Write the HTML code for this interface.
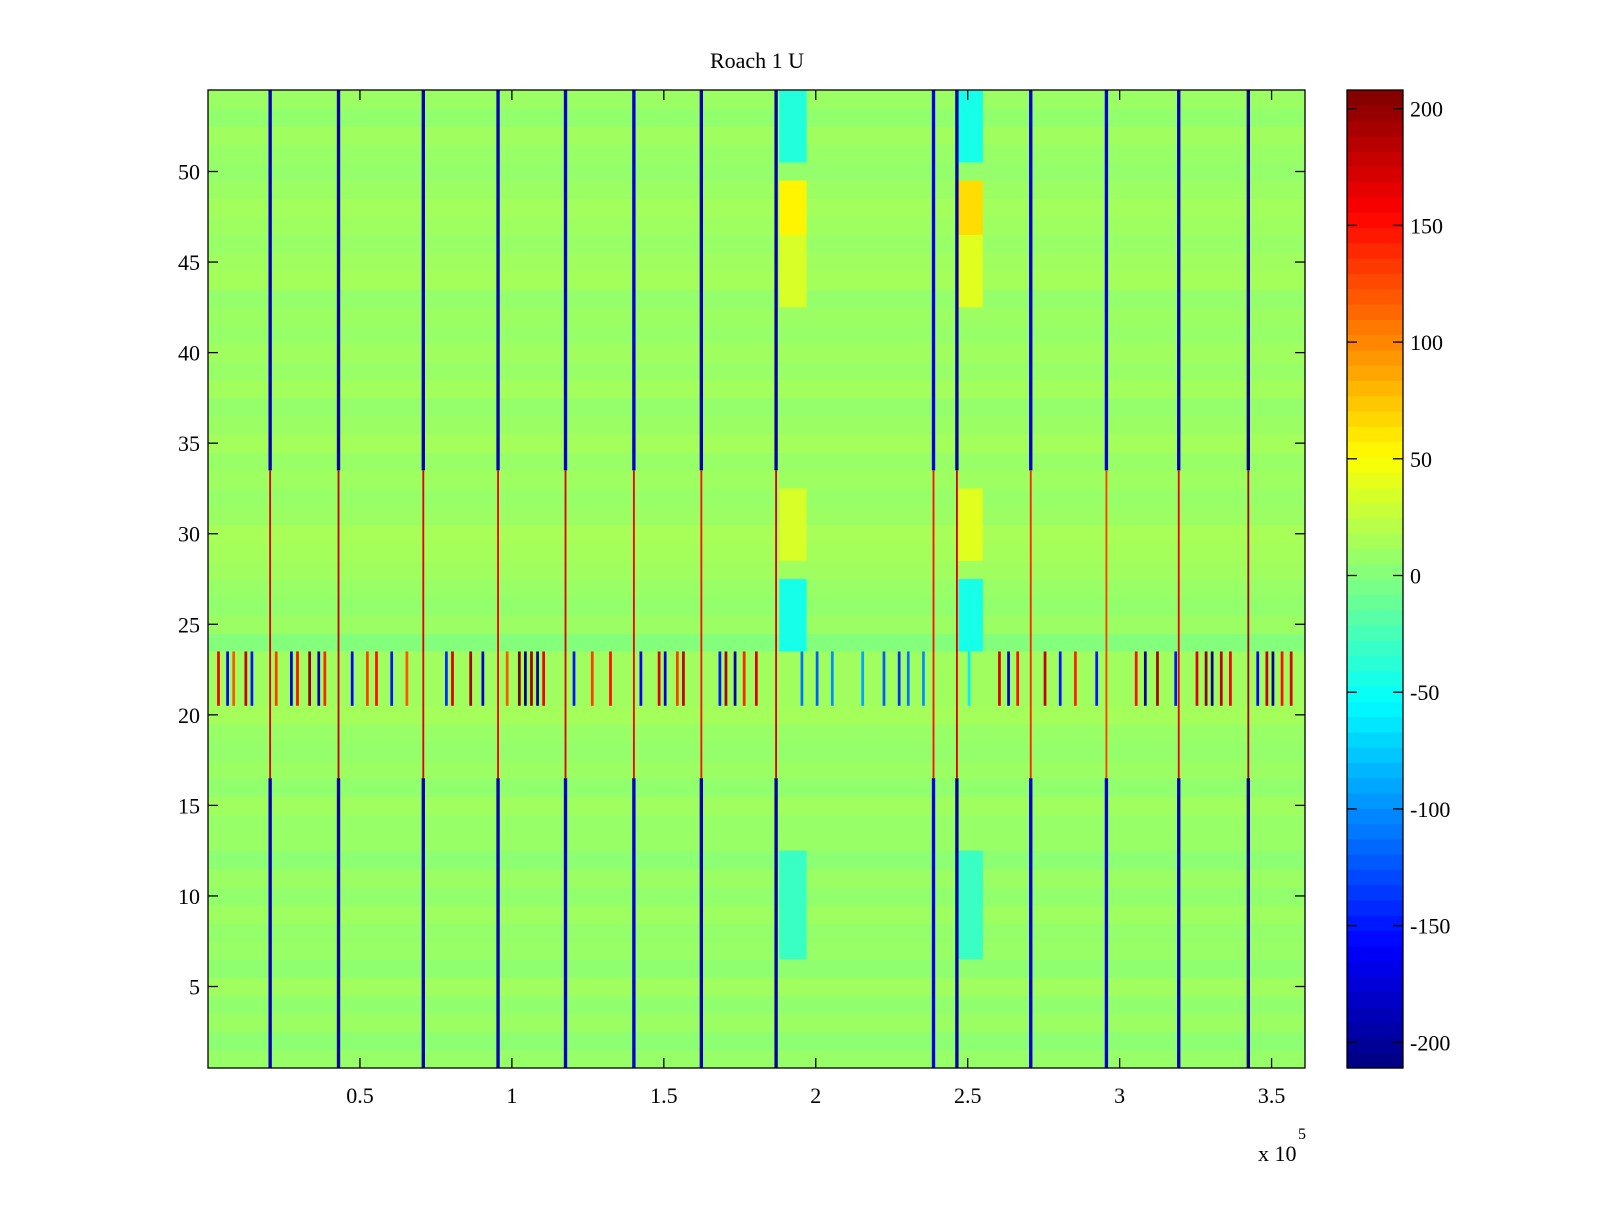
<!DOCTYPE html>
<html><head><meta charset="utf-8"><style>
html,body{margin:0;padding:0;background:#fff;}
svg text{font-family:"Liberation Serif",serif;fill:#000;}
</style></head><body>
<svg id="fig" width="1600" height="1200" viewBox="0 0 1600 1200" xmlns="http://www.w3.org/2000/svg">
<text x="757" y="68" font-size="22" text-anchor="middle">Roach 1 U</text>
<g id="plot"></g>
<g id="cbar"></g>
<g id="axes"></g>
</svg>
<script>
// ---- data ----
const rowValues = [8,4,10,6,12,5,9,7,11,6,10,4,9,8,12,6,10,7,9,14,8,0,0,0,10,6,9,12,14,15,10,8,11,9,14,10,7,13,9,12,8,10,7,14,12,9,11,13,10,7,9,12,6,10];
const stripeX = [0.199,0.424,0.703,0.949,1.171,1.396,1.618,1.864,2.382,2.459,2.702,2.951,3.189,3.418];
const stripeTopV = [-190,-200,-190,-190,-180,-180,-190,-200,-170,-200,-180,-180,-190,-210];
const stripeMidV = [170,180,170,160,170,160,150,170,150,170,140,130,160,190];
const blobX0 = [1.88,1.88,1.88,1.88,1.88,1.88,2.47,2.47,2.47,2.47,2.47,2.47];
const blobX1 = [1.97,1.97,1.97,1.97,1.97,1.97,2.55,2.55,2.55,2.55,2.55,2.55];
const blobR0 = [51,47,43,29,24,7,51,47,43,29,24,7];
const blobR1 = [54,49,46,32,27,12,54,49,46,32,27,12];
const blobV = [-40,55,35,35,-45,-30,-45,65,38,38,-45,-30];
const bandX = [0.03,0.06,0.08,0.12,0.14,0.22,0.27,0.29,0.33,0.36,0.38,0.47,0.52,0.55,0.6,0.65,0.78,0.8,0.86,0.9,0.98,1.02,1.04,1.06,1.08,1.1,1.2,1.26,1.32,1.42,1.48,1.5,1.54,1.56,1.68,1.7,1.73,1.76,1.8,1.95,2.0,2.05,2.15,2.22,2.27,2.3,2.35,2.5,2.6,2.63,2.66,2.75,2.8,2.85,2.92,3.05,3.08,3.12,3.18,3.25,3.28,3.3,3.33,3.36,3.45,3.48,3.5,3.53,3.56];
const bandV = [160,-160,120,180,-150,130,-170,150,200,-190,140,-160,130,150,-150,120,-140,170,190,-180,120,210,-210,190,-200,160,-150,130,150,-160,170,-170,130,180,-150,190,-190,140,170,-110,-120,-100,-90,-120,-140,-110,-100,-60,170,-180,150,180,-150,140,-150,150,-200,190,-150,170,200,-210,180,160,-160,180,-200,150,170];
const xTicks = [0.5,1,1.5,2,2.5,3,3.5];
const yTicks = [5,10,15,20,25,30,35,40,45,50];
const cTicks = [200,150,100,50,0,-50,-100,-150,-200];
// ---- scales ----
const X0=208,X1=1305,Y0=90,Y1=1068,XMAX=3.61,RMIN=0.5,RMAX=54.5;
const CMIN=-211,CMAX=208,CB0=1347,CB1=1403;
const xs=v=>X0+v/XMAX*(X1-X0);
const ys=r=>Y0+(RMAX-r)/(RMAX-RMIN)*(Y1-Y0);
const cy=v=>Y0+(CMAX-v)/(CMAX-CMIN)*(Y1-Y0);
function jet(v){const t=Math.max(0,Math.min(1,(v-CMIN)/(CMAX-CMIN)));
 const c=x=>Math.round(255*Math.max(0,Math.min(1,x)));
 return `rgb(${c(1.5-Math.abs(4*t-3))},${c(1.5-Math.abs(4*t-2))},${c(1.5-Math.abs(4*t-1))})`;}
const NS="http://www.w3.org/2000/svg";
function rect(p,x,y,w,h,fill,name){const r=document.createElementNS(NS,'rect');
 r.setAttribute('x',x);r.setAttribute('y',y);r.setAttribute('width',w);r.setAttribute('height',h);r.setAttribute('fill',fill);
 
 
 p.appendChild(r);return r;}
function line(p,x1,y1,x2,y2,name){const l=document.createElementNS(NS,'line');
 l.setAttribute('x1',x1);l.setAttribute('y1',y1);l.setAttribute('x2',x2);l.setAttribute('y2',y2);l.setAttribute('stroke','#000');l.setAttribute('stroke-width',1.3);
 
 
 p.appendChild(l);}
function text(p,x,y,s,str,anchor,name){const t=document.createElementNS(NS,'text');
 t.setAttribute('x',x);t.setAttribute('y',y);t.setAttribute('font-size',s);t.setAttribute('text-anchor',anchor);t.textContent=str;
 
 
 p.appendChild(t);}
const plot=document.getElementById('plot');
rowValues.forEach((v,i)=>{const r=i+1;rect(plot,X0,ys(r+0.5),X1-X0,ys(r-0.5)-ys(r+0.5)+0.5,jet(v),'heatmap-row');});
for(let r=21;r<=23;r++){rect(plot,X0,ys(r+0.5),X1-X0,ys(r-0.5)-ys(r+0.5)+0.5,jet(12),'band-row');}
bandX.forEach((x,i)=>{const w=0.009;rect(plot,xs(x),ys(23.5),xs(x+w)-xs(x),ys(20.5)-ys(23.5),jet(bandV[i]),'band-cell');});
blobX0.forEach((x,i)=>{rect(plot,xs(x),ys(blobR1[i]+0.5),xs(blobX1[i])-xs(x),ys(blobR0[i]-0.5)-ys(blobR1[i]+0.5),jet(blobV[i]),'heatmap-blob');});
stripeX.forEach((x,i)=>{const w=0.011,px=xs(x),pw=xs(x+w)-px,mw=xs(0.006)-xs(0);
 rect(plot,px,Y0,pw,ys(33.5)-Y0,jet(stripeTopV[i]),'stripe-top');
 rect(plot,px+(pw-mw)/2,ys(33.5),mw,ys(16.5)-ys(33.5),jet(stripeMidV[i]),'stripe-mid');
 rect(plot,px,ys(16.5),pw,Y1-ys(16.5),jet(stripeTopV[i]),'stripe-bottom');});
const ax=document.getElementById('axes');
const fr=rect(ax,X0,Y0,X1-X0,Y1-Y0,'none','plot-frame');fr.setAttribute('stroke','#000');fr.setAttribute('stroke-width',1.3);
xTicks.forEach(v=>{const x=xs(v*1);line(ax,x,Y1,x,Y1-10,'x-tick');line(ax,x,Y0,x,Y0+10,'x-tick-top');text(ax,x,Y1+35,22,String(v),'middle','x-tick-label');});
yTicks.forEach(v=>{const y=ys(v);line(ax,X0,y,X0+10,y,'y-tick');line(ax,X1,y,X1-10,y,'y-tick-right');text(ax,X0-8,y+8,22,String(v),'end','y-tick-label');});
text(ax,1258,1161,22,'x 10','start','x-exponent-label');
text(ax,1298,1139,16,'5','start','x-exponent-power');
const cb=document.getElementById('cbar');
const N=64;for(let i=0;i<N;i++){const v0=CMIN+(CMAX-CMIN)*i/N,v1=CMIN+(CMAX-CMIN)*(i+1)/N;
 rect(cb,CB0,cy(v1),CB1-CB0,cy(v0)-cy(v1)+0.6,jet((v0+v1)/2),'colorbar-step');}
const cf=rect(cb,CB0,Y0,CB1-CB0,Y1-Y0,'none','colorbar-frame');cf.setAttribute('stroke','#000');cf.setAttribute('stroke-width',1.3);
cTicks.forEach(v=>{const y=cy(v);line(cb,CB0,y,CB0+10,y,'colorbar-tick');line(cb,CB1,y,CB1-10,y,'colorbar-tick-right');text(cb,CB1+7,y+8,22,String(v),'start','colorbar-tick-label');});
</script>
</body></html>
